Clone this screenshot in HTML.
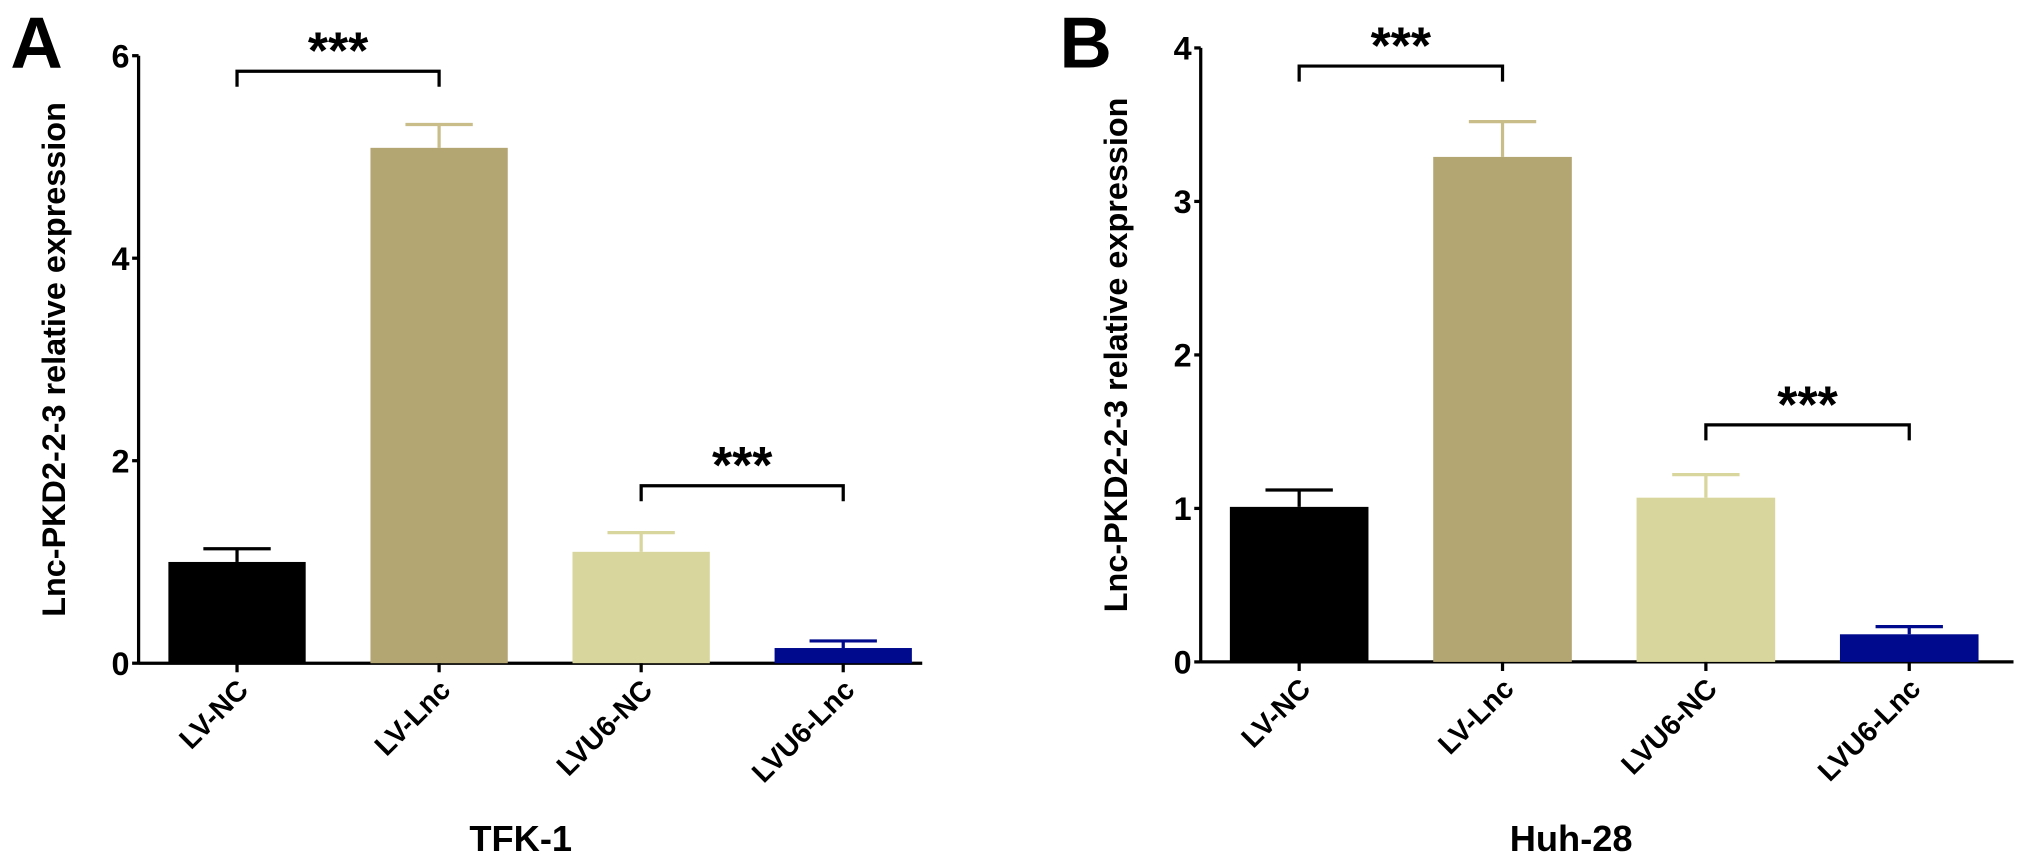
<!DOCTYPE html>
<html><head><meta charset="utf-8"><style>
body{margin:0;background:#fff;}
svg{display:block;font-family:"Liberation Sans",Arial,sans-serif;font-weight:bold;}
</style></head><body>
<svg id="c" width="2031" height="868" viewBox="0 0 1568 670.1" preserveAspectRatio="none"></svg>
<script>
const categories=["LV-NC","LV-Lnc","LVU6-NC","LVU6-Lnc"];
const valuesA=[1.0,5.09,1.1,0.15];
const errorsA=[1.13,5.32,1.29,0.22];
const valuesB=[1.01,3.29,1.07,0.18];
const errorsB=[1.12,3.52,1.22,0.23];
const ticksA=[0,2,4,6];
const ticksB=[0,1,2,3,4];
const colors=["#000000","#b3a672","#d8d69c","#000a8c"];
const errColors=["#000000","#c9bd8a","#d8d69c","#000a8c"];
const NS="http://www.w3.org/2000/svg";
const svg=document.getElementById('c');
function mk(t,a,p){const e=document.createElementNS(NS,t);for(const k in a)e.setAttribute(k,a[k]);(p||svg).appendChild(e);return e;}
function panel(cfg){
  const g=mk('g',{});
  
  
  const y=v=>cfg.y0-(v/cfg.ymax)*(cfg.y0-cfg.ytop);
  const xc=i=>cfg.x0+cfg.first+i*cfg.step;
  const ax=mk('line',{x1:cfg.ax,y1:cfg.ytop,x2:cfg.ax,y2:cfg.y0+1,stroke:'#000','stroke-width':2.5},g);
  
  const xa=mk('line',{x1:cfg.ax,y1:cfg.y0,x2:xc(3)+cfg.bw/2+cfg.ext,y2:cfg.y0,stroke:'#000','stroke-width':2.5},g);
  
  cfg.ticks.forEach(t=>{
    mk('line',{x1:cfg.ax-5,y1:y(t),x2:cfg.ax,y2:y(t),stroke:'#000','stroke-width':2.5},g);
    const tx=mk('text',{x:cfg.ax-7,y:y(t)+9,'text-anchor':'end','font-size':25},g);
    tx.textContent=t;
    
  });
  cfg.vals.forEach((v,i)=>{
    const cx=xc(i);
    const el=mk('line',{x1:cx,y1:y(v),x2:cx,y2:y(cfg.errs[i]),stroke:errColors[i],'stroke-width':2.5},g);
    
    mk('line',{x1:cx-26,y1:y(cfg.errs[i]),x2:cx+26,y2:y(cfg.errs[i]),stroke:errColors[i],'stroke-width':2.5},g);
    const r=mk('rect',{x:cx-cfg.bw/2,y:y(v),width:cfg.bw,height:cfg.y0-y(v),fill:colors[i]},g);
    
    
    mk('line',{x1:cx,y1:cfg.y0,x2:cx,y2:cfg.y0+7,stroke:'#000','stroke-width':2.5},g);
    const lab=mk('text',{x:cx+10,y:cfg.y0+22,'text-anchor':'end','font-size':22,transform:`rotate(-45 ${cx+10} ${cfg.y0+22})`},g);
    lab.textContent=categories[i];
    
  });
  cfg.sig.forEach(s=>{
    const a=xc(s.a),b=xc(s.b),yy=s.y;
    const p=mk('path',{d:`M${a} ${yy+12}V${yy}H${b}V${yy+12}`,fill:'none',stroke:'#000','stroke-width':2.5},g);
    
    const t=mk('text',{x:(a+b)/2,y:yy-2,'text-anchor':'middle','font-size':40},g);
    t.textContent='***';
    
  });
  const yt=mk('text',{x:0,y:0,'text-anchor':'middle','font-size':25,transform:`translate(${cfg.ax-57},${(cfg.y0+cfg.ytop)/2}) rotate(-90)`},g);
  yt.textContent='Lnc-PKD2-2-3 relative expression';
  
  const xt=mk('text',{x:cfg.titleX,y:657,'text-anchor':'middle','font-size':28},g);
  xt.textContent=cfg.title;
  
  const pl=mk('text',{x:cfg.letterX,y:52,'font-size':56},g);
  pl.textContent=cfg.letter;
  
}
panel({name:'panel-a',ax:107,x0:107,first:76,step:156,bw:106,ext:8,y0:512,ytop:43,ymax:6,ticks:ticksA,vals:valuesA,errs:errorsA,
  sig:[{a:0,b:1,y:55},{a:2,b:3,y:375}],title:'TFK-1',titleX:402,letter:'A',letterX:8});
panel({name:'panel-b',ax:927,x0:927,first:76,step:157,bw:107,ext:27,y0:511,ytop:37,ymax:4,ticks:ticksB,vals:valuesB,errs:errorsB,
  sig:[{a:0,b:1,y:51},{a:2,b:3,y:328}],title:'Huh-28',titleX:1213,letter:'B',letterX:818});
</script>
</body></html>
